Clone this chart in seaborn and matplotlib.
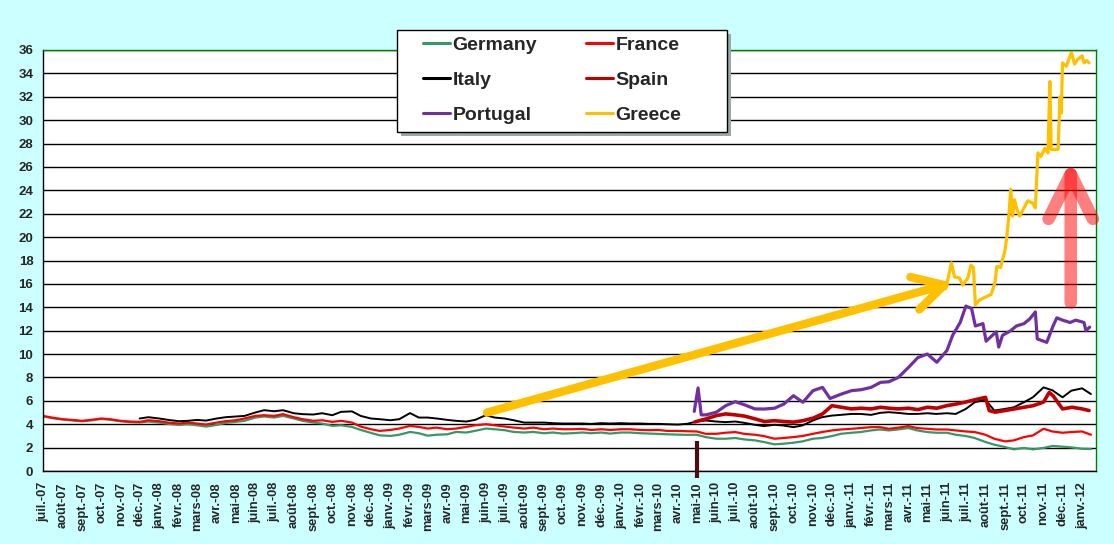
import pandas as pd
import matplotlib
matplotlib.use("Agg")
import matplotlib.pyplot as plt
import matplotlib.dates as mdates
from matplotlib.lines import Line2D
from matplotlib.patches import Rectangle
from matplotlib.ticker import FuncFormatter, MultipleLocator
import seaborn as sns

# 10-year bond yields (%)
# semi-monthly readings from juil.-07 to janv.-12
germany = [4.68, 4.52, 4.40, 4.33, 4.25, 4.32, 4.45, 4.38, 4.25, 4.18,
           4.15, 4.23, 4.14, 4.03, 3.94, 4.00, 3.91, 3.80, 3.94, 4.11,
           4.20, 4.29, 4.57, 4.66, 4.57, 4.71, 4.49, 4.29, 4.14, 4.06,
           3.86, 3.91, 3.77, 3.51, 3.26, 3.05, 3.00, 3.10, 3.34, 3.23,
           3.02, 3.10, 3.14, 3.34, 3.29, 3.43, 3.63, 3.57, 3.49, 3.34,
           3.29, 3.34, 3.23, 3.29, 3.20, 3.23, 3.29, 3.23, 3.29, 3.20,
           3.29, 3.29, 3.23, 3.20, 3.17, 3.14, 3.11, 3.09, 3.10, 2.90,
           2.76, 2.76, 2.82, 2.70, 2.62, 2.48, 2.28, 2.33, 2.42, 2.53,
           2.76, 2.82, 2.99, 3.18, 3.27, 3.33, 3.47, 3.55, 3.47, 3.55,
           3.67, 3.47, 3.33, 3.27, 3.27, 3.10, 2.99, 2.82, 2.48, 2.25,
           2.05, 1.85, 1.97, 1.85, 1.97, 2.14, 2.08, 2.02, 1.90, 1.88]
france = [4.71, 4.57, 4.43, 4.37, 4.29, 4.37, 4.49, 4.43, 4.29, 4.23,
          4.20, 4.34, 4.26, 4.14, 4.06, 4.14, 4.06, 3.97, 4.14, 4.26,
          4.34, 4.49, 4.71, 4.77, 4.71, 4.86, 4.60, 4.43, 4.29, 4.34,
          4.20, 4.29, 4.14, 3.80, 3.57, 3.43, 3.51, 3.63, 3.86, 3.77,
          3.63, 3.71, 3.57, 3.63, 3.77, 3.91, 4.00, 3.91, 3.80, 3.71,
          3.63, 3.71, 3.57, 3.63, 3.57, 3.57, 3.60, 3.51, 3.57, 3.51,
          3.57, 3.57, 3.51, 3.49, 3.51, 3.43, 3.43, 3.40, 3.38, 3.18,
          3.18, 3.27, 3.33, 3.18, 3.10, 2.99, 2.76, 2.82, 2.90, 2.99,
          3.18, 3.33, 3.47, 3.55, 3.61, 3.67, 3.75, 3.75, 3.61, 3.70,
          3.84, 3.67, 3.61, 3.55, 3.55, 3.47, 3.38, 3.33, 3.10, 2.76,
          2.53, 2.62, 2.90, 3.04, 3.61, 3.38, 3.27, 3.33, 3.38, 3.10]
# Italy starts in déc.-07
italy = [4.49, 4.60, 4.49, 4.37, 4.26, 4.29, 4.37, 4.31, 4.49, 4.60,
         4.66, 4.71, 5.00, 5.20, 5.11, 5.20, 4.94, 4.86, 4.83, 4.94,
         4.77, 5.06, 5.10, 4.71, 4.49, 4.43, 4.34, 4.43, 4.95, 4.57,
         4.57, 4.49, 4.37, 4.29, 4.23, 4.37, 4.77, 4.57, 4.49, 4.34,
         4.14, 4.14, 4.14, 4.09, 4.06, 4.06, 4.06, 4.03, 4.09, 4.06,
         4.09, 4.06, 4.06, 4.03, 4.03, 4.00, 3.97, 4.03, 4.23, 4.32,
         4.23, 4.18, 4.23, 4.12, 3.95, 3.84, 3.95, 3.89, 3.75, 3.89,
         4.32, 4.60, 4.74, 4.80, 4.88, 4.88, 4.80, 4.97, 5.03, 4.97,
         4.88, 4.88, 4.94, 4.88, 4.94, 4.88, 5.31, 5.88, 6.10, 5.17,
         5.31, 5.45, 5.88, 6.30, 7.15, 6.90, 6.30, 6.87, 7.07, 6.58]

spain_dates = ["2010-04-28", "2010-05-16", "2010-06-01", "2010-06-16", "2010-07-01",
               "2010-07-16", "2010-08-01", "2010-08-16", "2010-09-01", "2010-09-16",
               "2010-10-01", "2010-10-16", "2010-11-01", "2010-11-16", "2010-12-01",
               "2010-12-16", "2011-01-01", "2011-01-16", "2011-02-01", "2011-02-16",
               "2011-03-01", "2011-03-16", "2011-04-01", "2011-04-16", "2011-05-01",
               "2011-05-16", "2011-06-01", "2011-06-16", "2011-07-01", "2011-07-16",
               "2011-08-01", "2011-08-07", "2011-08-16", "2011-09-01", "2011-09-16",
               "2011-10-01", "2011-10-16", "2011-11-01", "2011-11-10", "2011-11-16",
               "2011-12-01", "2011-12-16", "2012-01-01", "2012-01-12"]
spain = [4.20, 4.46, 4.74, 4.88, 4.80, 4.69, 4.46, 4.23, 4.30, 4.23,
         4.18, 4.30, 4.52, 4.88, 5.59, 5.45, 5.31, 5.37, 5.31, 5.45,
         5.37, 5.31, 5.37, 5.25, 5.45, 5.37, 5.59, 5.73, 5.90, 6.10,
         6.30, 5.17, 5.03, 5.17, 5.31, 5.45, 5.59, 5.90, 6.72, 6.44,
         5.31, 5.45, 5.31, 5.17]

portugal_dates = ["2010-04-27", "2010-05-03", "2010-05-08", "2010-05-16", "2010-06-01",
                  "2010-06-16", "2010-07-01", "2010-07-16", "2010-08-01", "2010-08-16",
                  "2010-09-01", "2010-09-16", "2010-10-01", "2010-10-16", "2010-11-01",
                  "2010-11-16", "2010-11-28", "2010-12-16", "2011-01-01", "2011-01-16",
                  "2011-02-01", "2011-02-16", "2011-03-01", "2011-03-16", "2011-04-01",
                  "2011-04-16", "2011-05-01", "2011-05-16", "2011-06-01", "2011-06-10",
                  "2011-06-22", "2011-07-01", "2011-07-10", "2011-07-16", "2011-07-28",
                  "2011-08-02", "2011-08-18", "2011-08-22", "2011-08-28", "2011-09-10",
                  "2011-09-19", "2011-10-01", "2011-10-10", "2011-10-19", "2011-10-22",
                  "2011-11-06", "2011-11-16", "2011-11-22", "2011-12-01", "2011-12-13",
                  "2011-12-22", "2012-01-04", "2012-01-07", "2012-01-13"]
portugal = [5.10, 7.10, 4.80, 4.80, 5.03, 5.59, 5.93, 5.65, 5.31, 5.30,
            5.37, 5.73, 6.44, 5.88, 6.87, 7.15, 6.20, 6.58, 6.87, 6.95,
            7.15, 7.58, 7.63, 8.00, 8.85, 9.70, 10.0, 9.30, 10.3, 11.6,
            12.7, 14.1, 13.9, 12.4, 12.6, 11.1, 11.9, 10.6, 11.6, 12.0,
            12.4, 12.6, 13.0, 13.6, 11.3, 11.0, 12.4, 13.1, 12.9, 12.7,
            12.9, 12.7, 12.0, 12.3]

greece_dates = ["2011-05-30", "2011-06-03", "2011-06-08", "2011-06-13", "2011-06-21",
                "2011-06-26", "2011-07-04", "2011-07-09", "2011-07-13", "2011-07-16",
                "2011-07-22", "2011-08-02", "2011-08-10", "2011-08-16", "2011-08-19",
                "2011-08-25", "2011-09-01", "2011-09-04", "2011-09-07", "2011-09-10",
                "2011-09-13", "2011-09-16", "2011-09-19", "2011-09-24", "2011-09-29",
                "2011-10-07", "2011-10-15", "2011-10-19", "2011-10-23", "2011-10-28",
                "2011-11-03", "2011-11-08", "2011-11-11", "2011-11-13", "2011-11-24",
                "2011-11-27", "2011-11-29", "2011-12-01", "2011-12-07", "2011-12-15",
                "2011-12-20", "2011-12-25", "2012-01-01", "2012-01-04", "2012-01-08",
                "2012-01-12"]
greece = [15.6, 16.5, 17.8, 16.6, 16.5, 15.9, 16.5, 17.6, 17.4, 14.2,
          14.6, 14.9, 15.1, 16.1, 17.5, 17.4, 18.9, 20.1, 21.8, 24.1,
          21.8, 23.2, 22.5, 21.8, 22.3, 23.1, 22.9, 22.5, 27.2, 26.9,
          27.6, 27.2, 33.3, 27.5, 27.5, 32.0, 30.6, 34.9, 34.6, 35.8,
          34.8, 35.2, 35.5, 34.9, 35.1, 34.9]

month_names = ["janv.", "févr.", "mars", "avr.", "mai", "juin",
               "juil.", "août", "sept.", "oct.", "nov.", "déc."]

# annotation marks
yellow_arrow = (("2009-06-03", 5.0), ("2011-06-10", 16.1))
pink_arrow = (("2011-12-14", 14.4), ("2011-12-14", 26.6))
event_date = "2010-05-01"

styles = {
    "Germany": ("#339966", 1.6),
    "France": ("#FF0000", 1.6),
    "Italy": ("#000000", 1.4),
    "Spain": ("#C00000", 2.6),
    "Portugal": ("#7030A0", 2.3),
    "Greece": ("#FFC000", 2.3),
}

semi = pd.date_range("2007-07-01", periods=len(germany), freq="SMS")
frames = [
    pd.DataFrame({"date": semi, "yield": germany, "country": "Germany"}),
    pd.DataFrame({"date": semi, "yield": france, "country": "France"}),
    pd.DataFrame({"date": semi[len(semi) - len(italy):], "yield": italy, "country": "Italy"}),
    pd.DataFrame({"date": pd.to_datetime(spain_dates), "yield": spain, "country": "Spain"}),
    pd.DataFrame({"date": pd.to_datetime(portugal_dates), "yield": portugal, "country": "Portugal"}),
    pd.DataFrame({"date": pd.to_datetime(greece_dates), "yield": greece, "country": "Greece"}),
]
df = pd.concat(frames, ignore_index=True)

sns.set_style("white")
plt.rcParams["font.family"] = ["Liberation Sans", "DejaVu Sans"]
plt.rcParams["font.weight"] = "bold"

W, H = 1114, 544
fig = plt.figure(figsize=(W / 100, H / 100), dpi=100, facecolor="#CCFFFF")
ax = fig.add_axes([43 / W, 1 - 471 / H, 1053 / W, 421 / H])
ax.set_facecolor("white")

for name, (color, lw) in styles.items():
    sub = df[df["country"] == name]
    sns.lineplot(data=sub, x="date", y="yield", color=color, linewidth=lw,
                 ax=ax, legend=False)

ax.set_xlim(pd.Timestamp("2007-07-01"), pd.Timestamp("2012-01-23"))
ax.set_ylim(0, 36)
ax.yaxis.set_major_locator(MultipleLocator(2))
ax.xaxis.set_major_locator(mdates.MonthLocator())


def french_month(x, pos):
    d = mdates.num2date(x)
    return f"{month_names[d.month - 1]}-{d:%y}"


ax.xaxis.set_major_formatter(FuncFormatter(french_month))
ax.set_xlabel("")
ax.set_ylabel("")
ax.grid(False)
ax.yaxis.grid(True, color="black", linewidth=1)
ax.set_axisbelow(True)

ax.tick_params(axis="x", direction="out", length=5, width=1, color="black",
               labelsize=9.3, rotation=90, pad=3)
ax.tick_params(axis="y", direction="out", length=4, width=1, color="black",
               labelsize=9.5, pad=3)
for lab in ax.get_xticklabels() + ax.get_yticklabels():
    lab.set_fontweight("bold")

for side in ["top", "right"]:
    ax.spines[side].set_color("#008000")
    ax.spines[side].set_linewidth(1)
for side in ["left", "bottom"]:
    ax.spines[side].set_color("black")
    ax.spines[side].set_linewidth(1)

# dark marker at mai-10
ev = pd.Timestamp(event_date)
ax.plot([ev, ev], [2.6, -0.6], color="#4A0E0E", linewidth=3,
        solid_capstyle="butt", clip_on=False, zorder=5)

# yellow arrow towards the Greek line
(x0, y0), (x1, y1) = yellow_arrow
ax.annotate("", xy=(pd.Timestamp(x1), y1), xytext=(pd.Timestamp(x0), y0),
            arrowprops=dict(arrowstyle="->,head_length=1.0,head_width=0.55",
                            mutation_scale=22, color="#FFC000", lw=6,
                            shrinkA=0, shrinkB=0, capstyle="round",
                            joinstyle="round"),
            zorder=6)

# pink arrow pointing up
(x0, y0), (x1, y1) = pink_arrow
ax.annotate("", xy=(pd.Timestamp(x1), y1), xytext=(pd.Timestamp(x0), y0),
            arrowprops=dict(arrowstyle="->,head_length=0.85,head_width=0.42",
                            mutation_scale=38, color="#FF0000", alpha=0.5, lw=9,
                            shrinkA=0, shrinkB=0, capstyle="round",
                            joinstyle="round"),
            zorder=6)

# legend box with shadow, drawn in figure pixels
box = (397, 30, 330, 102)
fig.patches.append(Rectangle(((box[0] + 4) / W, 1 - (box[1] + box[3] + 4) / H),
                             box[2] / W, box[3] / H, transform=fig.transFigure,
                             facecolor="#9AA8A8", edgecolor="none", zorder=8))
fig.patches.append(Rectangle((box[0] / W, 1 - (box[1] + box[3]) / H),
                             box[2] / W, box[3] / H, transform=fig.transFigure,
                             facecolor="white", edgecolor="black", linewidth=1,
                             zorder=9))

# legend: rows Germany/France, Italy/Spain, Portugal/Greece
order = ["Germany", "Italy", "Portugal", "France", "Spain", "Greece"]
handles = [Line2D([0], [0], color=styles[n][0], linewidth=2.2) for n in order]
leg = fig.legend(handles, order, loc="upper left",
                 bbox_to_anchor=(423 / W, 1 - 36 / H),
                 ncol=2, fontsize=14, frameon=False,
                 handlelength=1.4, handletextpad=0.12, columnspacing=2.5,
                 labelspacing=0.9, borderpad=0, borderaxespad=0)
for t in leg.get_texts():
    t.set_fontweight("bold")
leg.set_zorder(10)

fig.savefig("out.png", dpi=100, facecolor=fig.get_facecolor())
